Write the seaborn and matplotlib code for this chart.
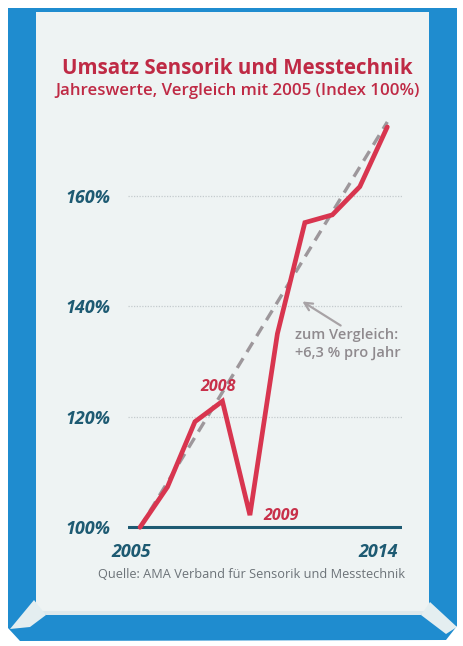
import matplotlib
matplotlib.use("Agg")
import matplotlib.pyplot as plt
import matplotlib.patches as mpatches
import matplotlib.transforms as mtransforms
import seaborn as sns
import pandas as pd

# ---- data ----
years = [2005, 2006, 2007, 2008, 2009, 2010, 2011, 2012, 2013, 2014]
umsatz = [100, 107.3, 119.1, 122.8, 102.2, 135.0, 155.1, 156.5, 161.6, 172.4]
vergleich_years = [2005, 2014]
vergleich = [100, 173.3]
ytick_vals = [100, 120, 140, 160]
ytick_labels = ["100%", "120%", "140%", "160%"]
xtick_vals = [2005, 2014]
xtick_labels = ["2005", "2014"]

title = "Umsatz Sensorik und Messtechnik"
subtitle = "Jahreswerte, Vergleich mit 2005 (Index 100%)"
source = "Quelle: AMA Verband für Sensorik und Messtechnik"

sns.set_style("white")
plt.rcParams["font.family"] = ["Open Sans", "DejaVu Sans"]

W, H = 463, 646
fig = plt.figure(figsize=(W / 100, H / 100), dpi=100)
fig.patch.set_facecolor("white")

def P(x, y):
    return (x / W, 1 - y / H)

# ---- frame (decoration) ----
bg = fig.add_axes([0, 0, 1, 1], zorder=0)
bg.set_xlim(0, W)
bg.set_ylim(H, 0)
bg.axis("off")
BLUE = "#1f8ccf"
PANEL = "#eef3f3"
bg.add_patch(mpatches.Polygon([(8, 8), (457, 8), (457, 626), (446, 640), (20, 641), (8, 628)],
                              closed=True, facecolor=BLUE, edgecolor="none"))
bg.add_patch(mpatches.Rectangle((36, 12), 393, 600, facecolor=PANEL, edgecolor="none"))
bg.add_patch(mpatches.Polygon([(36, 611), (429, 611), (421, 615), (46, 615)],
                              closed=True, facecolor="#dfe9ec", edgecolor="none"))
bg.add_patch(mpatches.Polygon([(34, 600), (46, 615), (30, 627), (10, 629)],
                              closed=True, facecolor="#e4eef0", edgecolor="none"))
bg.add_patch(mpatches.Polygon([(430, 602), (421, 615), (446, 634), (457, 627)],
                              closed=True, facecolor="#e4eef0", edgecolor="none"))

# ---- main axes ----
px_per_year = (387.3 - 140) / 9
px_per_unit = (527.3 - 416.7) / 20
x0 = 2005 - (140 - 128) / px_per_year
x1 = 2005 + (402 - 140) / px_per_year
y0 = 100 - (535 - 527.3) / px_per_unit
y1 = 100 + (527.3 - 115) / px_per_unit
ax = fig.add_axes([128 / W, (H - 535) / H, (402 - 128) / W, (535 - 115) / H], zorder=2)
ax.patch.set_alpha(0)
ax.set_xlim(x0, x1)
ax.set_ylim(y0, y1)

TEAL = "#1d5a72"
RED = "#d8354f"
GREY = "#9d979b"

df = pd.DataFrame({"Jahr": years, "Umsatz": umsatz})
dv = pd.DataFrame({"Jahr": vergleich_years, "Index": vergleich})

ax.set_yticks(ytick_vals)
ax.set_yticklabels(ytick_labels)
ax.grid(axis="y", color="#c4cbcd", linestyle=(0, (1, 1.2)), linewidth=0.9)
ax.grid(axis="x", visible=False)
ax.axhline(100, color=TEAL, linewidth=2.2, zorder=1)

sns.lineplot(data=dv, x="Jahr", y="Index", ax=ax, color=GREY, linewidth=2.4,
             linestyle=(0, (3.4, 2.2)), zorder=3)
sns.lineplot(data=df, x="Jahr", y="Umsatz", ax=ax, color=RED, linewidth=3.4, zorder=4,
             solid_joinstyle="miter")

for s in ax.spines.values():
    s.set_visible(False)
ax.set_xlabel("")
ax.set_ylabel("")
ax.tick_params(axis="y", length=0, pad=13, labelsize=13, labelcolor=TEAL)
for t in ax.get_yticklabels():
    t.set_fontweight("bold")
    t.set_fontstyle("italic")
ax.set_xticks(xtick_vals)
ax.set_xticklabels(xtick_labels)
ax.tick_params(axis="x", length=0, pad=6, labelsize=13, labelcolor=TEAL)
off = mtransforms.ScaledTranslation(-9 / 100, 0, fig.dpi_scale_trans)
for t in ax.get_xticklabels():
    t.set_fontweight("bold")
    t.set_fontstyle("italic")
    t.set_transform(t.get_transform() + off)

# annotation arrow
def data_from_px(x, y):
    return (2005 + (x - 140) / px_per_year, 100 + (527.3 - y) / px_per_unit)

ax.annotate("", xy=data_from_px(300, 300), xytext=data_from_px(343, 327),
            arrowprops=dict(arrowstyle="->", color="#a8a3a6", lw=1.6, mutation_scale=14),
            zorder=5)

# ---- texts ----
fig.text(*P(237, 68), title, ha="center", va="center", fontsize=14.8,
         fontweight="bold", color="#bf2a45")
fig.text(*P(238, 91), subtitle, ha="center", va="center", fontsize=12.2,
         fontweight="semibold", color="#bf2a45")
fig.text(*P(295, 335), "zum Vergleich:", ha="left", va="center", fontsize=10.5,
         fontweight="semibold", color="#8f8a8e")
fig.text(*P(295, 353), "+6,3 % pro Jahr", ha="left", va="center", fontsize=10.5,
         fontweight="semibold", color="#8f8a8e")
fig.text(*P(218.5, 387), "2008", ha="center", va="center", fontsize=11.5,
         fontweight="bold", fontstyle="italic", color="#c8304a")
fig.text(*P(281, 516), "2009", ha="center", va="center", fontsize=11.5,
         fontweight="bold", fontstyle="italic", color="#c8304a")
fig.text(*P(251, 574), source, ha="center", va="center", fontsize=9.2,
         color="#6c7378")

fig.savefig("out.png", dpi=100, facecolor="white")
